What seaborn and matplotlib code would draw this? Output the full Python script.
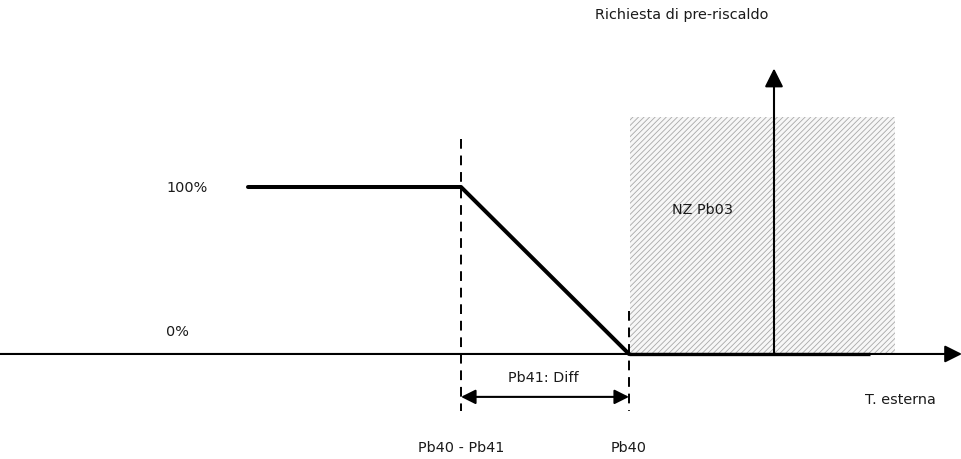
import numpy as np
import pandas as pd
import seaborn as sns
import matplotlib.pyplot as plt

# dati dello schema (x = posizione schematica della temperatura, y = richiesta %)
curve_x = [248, 461, 629]
curve_y = [100, 100, 0]
zero_run_x = [629, 870]
pb40_minus_pb41 = 461
pb40 = 629
nz_x = [630, 895]
nz_top = 142
y_axis_x = 774
y_axis_top = 171
x_axis_range = [0, 962]

sns.set_style("white")
plt.rcParams["font.family"] = ["DejaVu Sans"]
plt.rcParams["hatch.color"] = "#a8a8a8"
plt.rcParams["hatch.linewidth"] = 0.6

fig = plt.figure(figsize=(9.62, 4.6), dpi=100)
ax = fig.add_axes([0, 0, 1, 1])
ax.set_xlim(0, 962)
ax.set_ylim(-62.9, 212.6)
ax.axis("off")

# zona neutra tratteggiata
ax.fill_between(nz_x, 0, nz_top, facecolor="#f7f7f7", edgecolor="#a8a8a8",
                hatch="//////", linewidth=0)

# asse x e asse y con frecce
ax.annotate("", xy=(x_axis_range[1], 0), xytext=(x_axis_range[0], 0),
            arrowprops=dict(arrowstyle="-|>", color="black", lw=1.5,
                            mutation_scale=26, shrinkA=0, shrinkB=0))
ax.annotate("", xy=(y_axis_x, y_axis_top), xytext=(y_axis_x, 0),
            arrowprops=dict(arrowstyle="-|>", color="black", lw=1.5,
                            mutation_scale=28, shrinkA=0, shrinkB=0))

# curva di richiesta
df = pd.DataFrame({"T": curve_x, "req": curve_y})
sns.lineplot(data=df, x="T", y="req", ax=ax, color="black", lw=2.9, sort=False)
ax.plot(zero_run_x, [0, 0], color="black", lw=2.4, solid_capstyle="butt")

# linee tratteggiate
ax.plot([pb40_minus_pb41] * 2, [129, -34], color="black", lw=1.4, ls=(0, (5, 3.5)))
ax.plot([pb40] * 2, [26, -34], color="black", lw=1.4, ls=(0, (5, 3.5)))

# freccia doppia del differenziale
ax.annotate("", xy=(pb40, -25.7), xytext=(pb40_minus_pb41, -25.7),
            arrowprops=dict(arrowstyle="<|-|>", color="black", lw=1.5,
                            mutation_scale=22, shrinkA=0, shrinkB=0))

fs = 10.4
tc = "#1a1a1a"
ax.text((pb40 + pb40_minus_pb41) / 2 - 2, -13.8, "Pb41: Diff", ha="center", va="center", fontsize=fs, color=tc)
ax.text(pb40_minus_pb41, -55.7, "Pb40 - Pb41", ha="center", va="center", fontsize=fs, color=tc)
ax.text(pb40, -55.7, "Pb40", ha="center", va="center", fontsize=fs, color=tc)
ax.text(166, 100, "100%", ha="left", va="center", fontsize=fs, color=tc)
ax.text(166, 13.8, "0%", ha="left", va="center", fontsize=fs, color=tc)
ax.text(672, 86.8, "NZ Pb03", ha="left", va="center", fontsize=fs, color=tc)
ax.text(682, 203.6, "Richiesta di pre-riscaldo", ha="center", va="center", fontsize=fs, color=tc)
ax.text(865, -27, "T. esterna", ha="left", va="center", fontsize=fs, color=tc)

plt.savefig("out.png", dpi=100)
